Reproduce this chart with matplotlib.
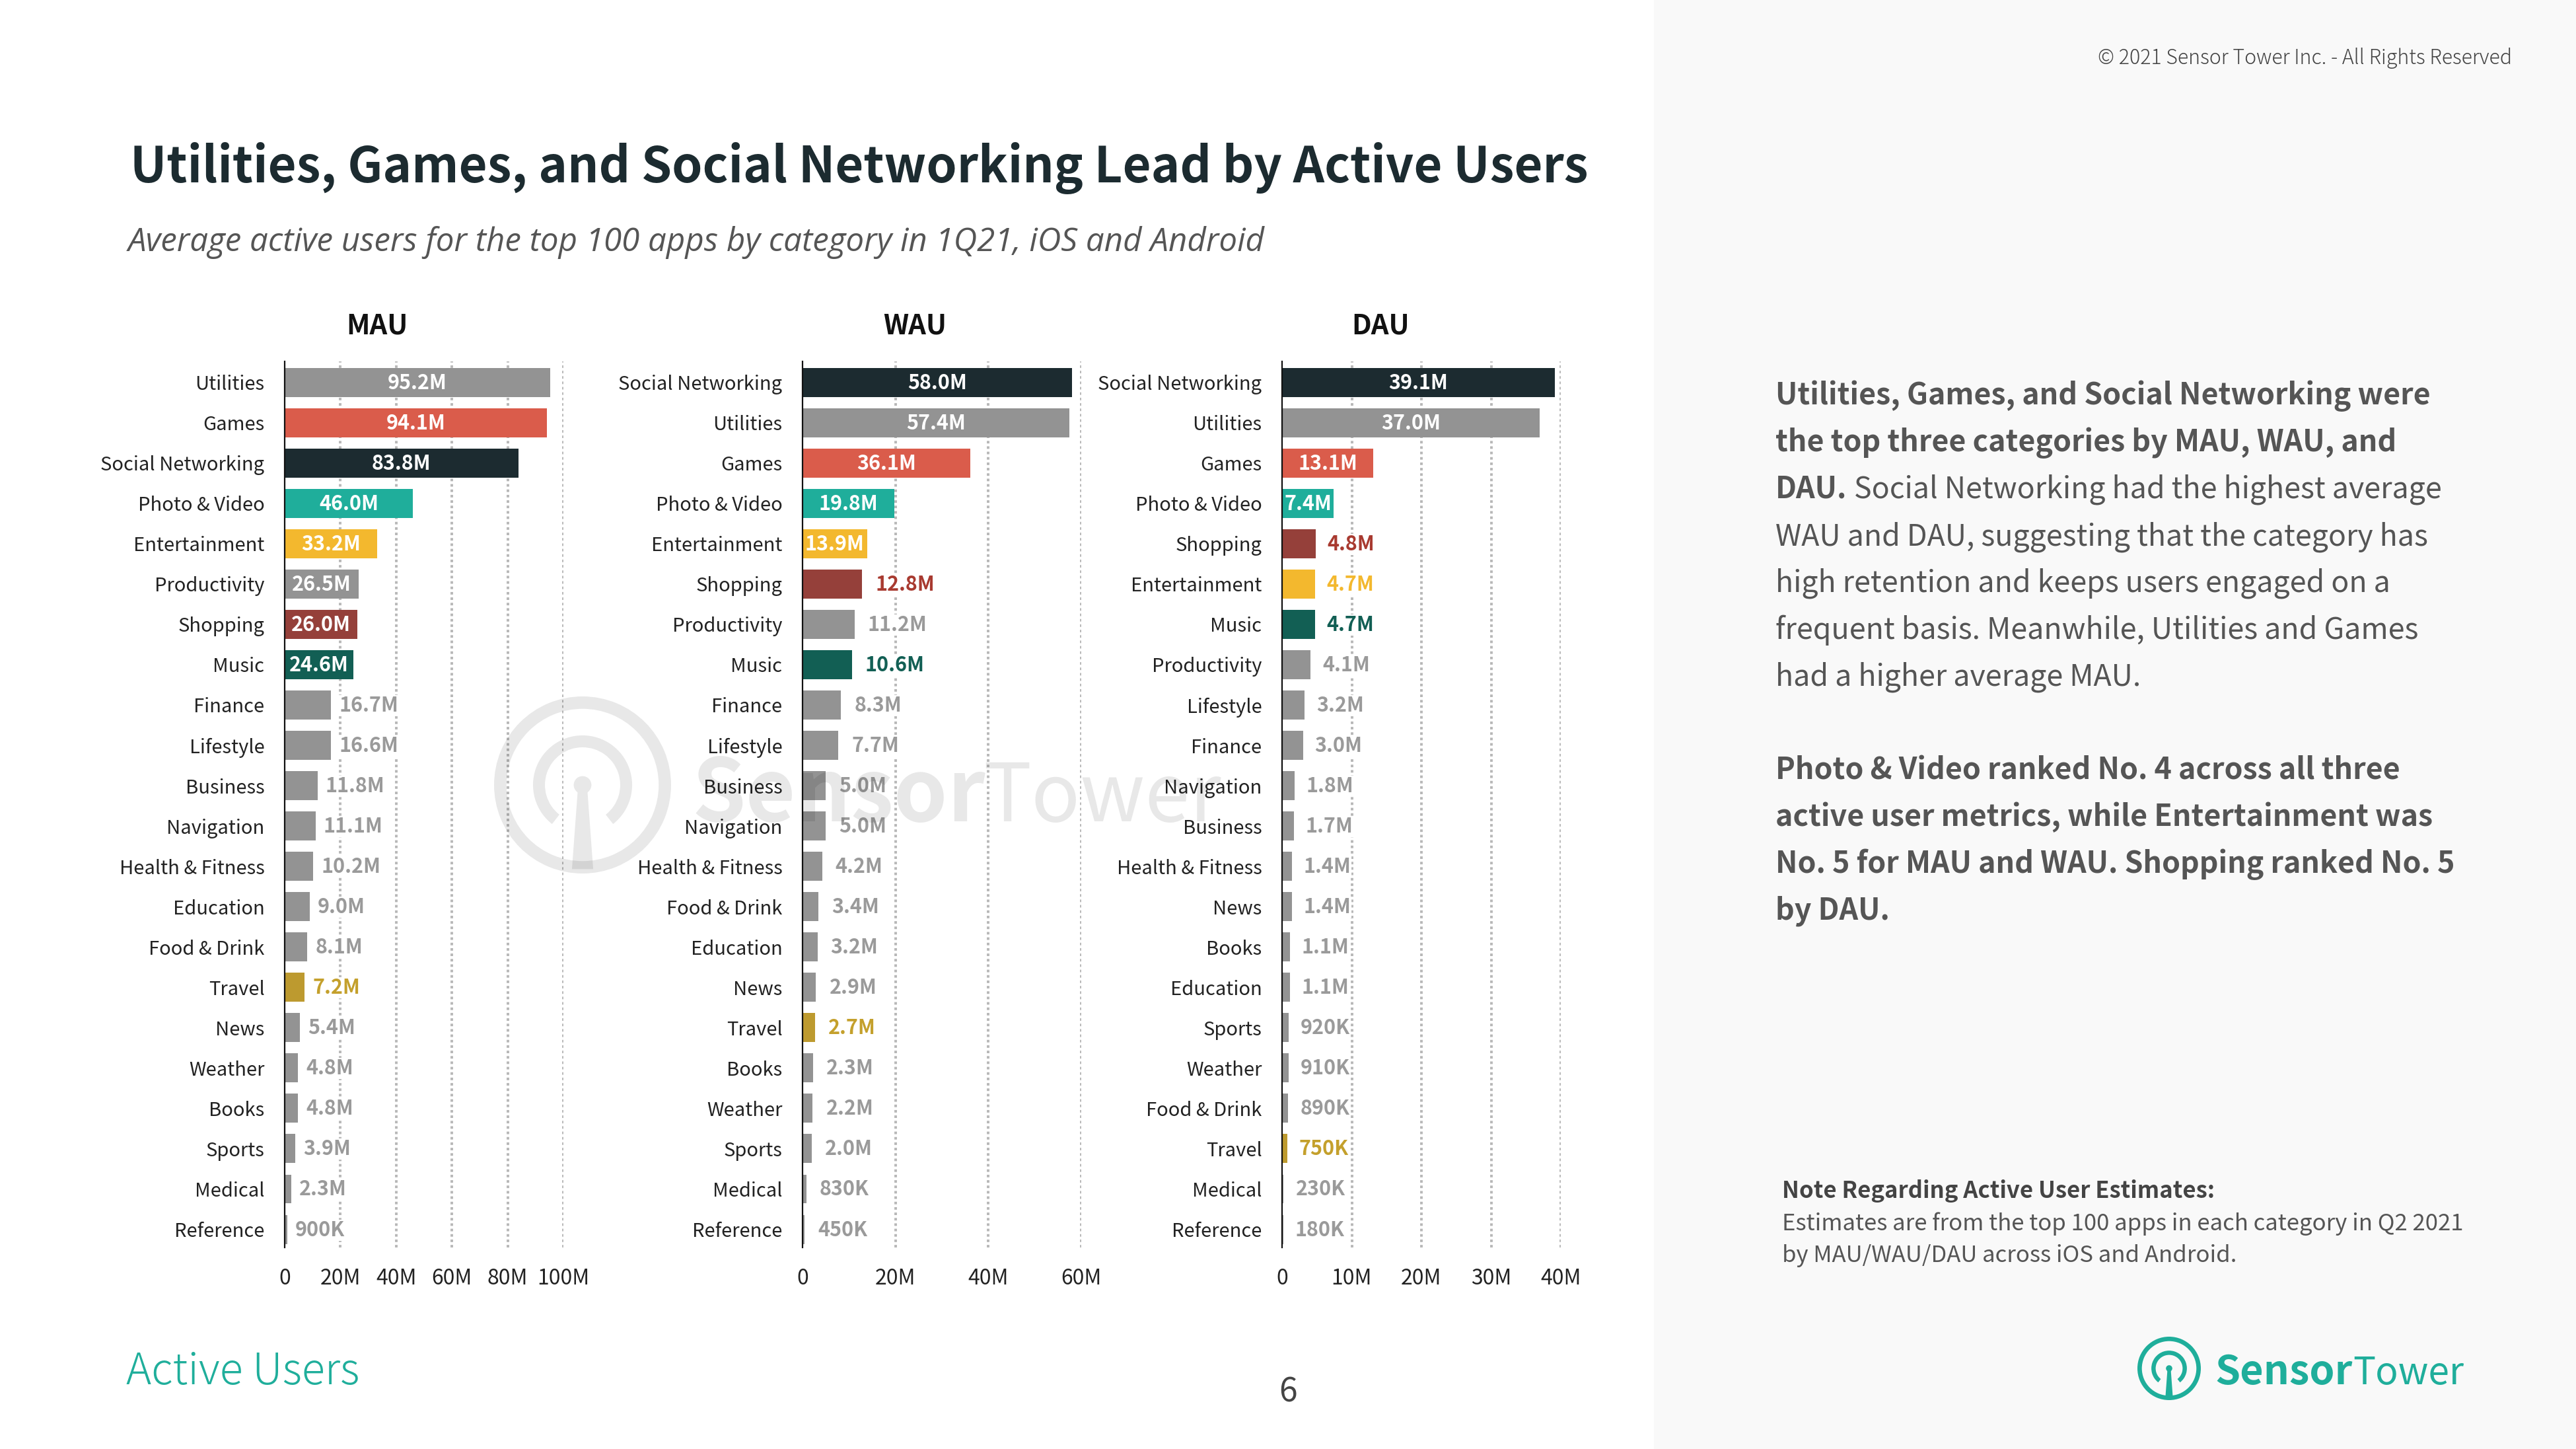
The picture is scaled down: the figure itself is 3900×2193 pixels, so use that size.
import matplotlib
matplotlib.use("Agg")
import matplotlib.pyplot as plt
from matplotlib.patches import Rectangle, Wedge, PathPatch
from matplotlib.path import Path
import numpy as np

W, H = 3900, 2193
SANS = "Noto Sans CJK JP"
plt.rcParams["font.family"] = [SANS, "DejaVu Sans"]

mau_names = ["Utilities", "Games", "Social Networking", "Photo & Video", "Entertainment", "Productivity",
             "Shopping", "Music", "Finance", "Lifestyle", "Business", "Navigation", "Health & Fitness",
             "Education", "Food & Drink", "Travel", "News", "Weather", "Books", "Sports", "Medical", "Reference"]
mau_values = [95.2, 94.1, 83.8, 46.0, 33.2, 26.5, 26.0, 24.6, 16.7, 16.6, 11.8, 11.1, 10.2, 9.0, 8.1, 7.2,
              5.4, 4.8, 4.8, 3.9, 2.3, 0.9]

wau_names = ["Social Networking", "Utilities", "Games", "Photo & Video", "Entertainment", "Shopping",
             "Productivity", "Music", "Finance", "Lifestyle", "Business", "Navigation", "Health & Fitness",
             "Food & Drink", "Education", "News", "Travel", "Books", "Weather", "Sports", "Medical", "Reference"]
wau_values = [58.0, 57.4, 36.1, 19.8, 13.9, 12.8, 11.2, 10.6, 8.3, 7.7, 5.0, 5.0, 4.2, 3.4, 3.2, 2.9, 2.7,
              2.3, 2.2, 2.0, 0.83, 0.45]

dau_names = ["Social Networking", "Utilities", "Games", "Photo & Video", "Shopping", "Entertainment", "Music",
             "Productivity", "Lifestyle", "Finance", "Navigation", "Business", "Health & Fitness", "News",
             "Books", "Education", "Sports", "Weather", "Food & Drink", "Travel", "Medical", "Reference"]
dau_values = [39.1, 37.0, 13.1, 7.4, 4.8, 4.7, 4.7, 4.1, 3.2, 3.0, 1.8, 1.7, 1.4, 1.4, 1.1, 1.1, 0.92, 0.91,
              0.89, 0.75, 0.23, 0.18]

mau_ticks = [0, 20, 40, 60, 80, 100]
wau_ticks = [0, 20, 40, 60]
dau_ticks = [0, 10, 20, 30, 40]

GREY = "#939393"
bar_colors = {"Games": "#da5c4b", "Social Networking": "#1c2b30", "Photo & Video": "#1fae9b",
              "Entertainment": "#f3b82e", "Shopping": "#95403a", "Music": "#125f54", "Travel": "#bd9a2f"}
text_colors = {"Shopping": "#a83a30", "Music": "#125f54", "Entertainment": "#f3b82e", "Travel": "#c4a02c"}
TEAL = "#1fae9b"


def fmt(v):
    if v < 1:
        return f"{v * 1000:.0f}K"
    return f"{v:.1f}M"


def panel(name, names, values, ticks, x0, x1, xmax, inside_from, gap, title_x):
    ax = fig.add_axes([x0 / W, 1 - 1888 / H, (x1 - x0) / W, (1888 - 547) / H])
    ypos = np.arange(len(names))
    colors = [bar_colors.get(n, GREY) for n in names]
    ax.barh(ypos, values, height=0.72, color=colors, zorder=3)
    ax.set_xlim(0, xmax)
    ax.set_ylim(21.45, -0.518)
    ax.set_yticks(ypos, names)
    ax.set_xticks(ticks, [str(t) if t == 0 else f"{t}M" for t in ticks])
    ax.tick_params(axis="y", length=0, pad=22, labelsize=21, labelcolor="#222222")
    ax.tick_params(axis="x", length=0, pad=22, labelsize=23, labelcolor="#222222")
    for s in ["top", "right", "bottom"]:
        ax.spines[s].set_visible(False)
    ax.spines["left"].set_linewidth(1.6)
    ax.spines["left"].set_color("#111111")
    ax.spines["left"].set_zorder(5)
    ax.grid(axis="x", color="#b8b8b8", linewidth=2.8, linestyle=(0, (1, 1.1)), zorder=1)
    ax.set_axisbelow(True)
    for tick, line in zip(ticks, ax.get_xgridlines()):
        if tick == 0:
            line.set_visible(False)
    for y, n, v in zip(ypos, names, values):
        if v >= inside_from:
            ax.text(v / 2, y + 0.02, fmt(v), ha="center", va="center", color="white",
                    fontsize=22, fontweight="bold", zorder=4)
        else:
            ax.annotate(fmt(v), (v, y), xytext=(gap, -1), textcoords="offset pixels", ha="left", va="center",
                        color=text_colors.get(n, "#9a9a9a"), fontsize=22, fontweight="bold", zorder=4,
                        bbox=dict(facecolor="white", edgecolor="none", pad=0))
    over.text(title_x, 494, name, ha="center", va="center", fontsize=30, fontweight="bold", color="#111111")


def logo(cx, cy, r, color, alpha=1.0):
    over.add_patch(Wedge((cx, cy), r, 0, 360, width=r * 0.14, facecolor=color, edgecolor="none", alpha=alpha))
    over.add_patch(Wedge((cx, cy), r * 0.56, 128, 412, width=r * 0.135, facecolor=color, edgecolor="none",
                         alpha=alpha))
    dot = Path.circle((cx, cy), r * 0.1)
    stem = Path([(cx - r * 0.05, cy), (cx + r * 0.05, cy), (cx + r * 0.12, cy + r * 0.95),
                 (cx - r * 0.12, cy + r * 0.95), (cx - r * 0.05, cy)],
                [Path.MOVETO, Path.LINETO, Path.LINETO, Path.LINETO, Path.CLOSEPOLY])
    over.add_patch(PathPatch(Path.make_compound_path(dot, stem), facecolor=color, edgecolor="none", alpha=alpha))


def mixed_line(x, y, bold, regular, size, color):
    # bold lead-in followed by regular text on one baseline
    r = fig.canvas.get_renderer()
    if bold:
        t = over.text(x, y, bold, fontsize=size, fontweight="bold", color=color, va="baseline")
        x = t.get_window_extent(r).x1 + (size * 0.32 if regular else 0)
    if regular:
        over.text(x, y, regular, fontsize=size, color=color, va="baseline")


fig = plt.figure(figsize=(W / 100, H / 100), dpi=100, facecolor="white")

# full figure layer in pixel units, sits on top of the charts for the watermark
over = fig.add_axes([0, 0, 1, 1], zorder=10)
over.set_xlim(0, W)
over.set_ylim(H, 0)
over.axis("off")
over.patch.set_alpha(0)
over.add_patch(Rectangle((2504, 0), W - 2504, H, facecolor="#f9f9f9", edgecolor="none"))

panel("MAU", mau_names, mau_values, mau_ticks, 431, 853, 100, 24, 12, 571)
panel("WAU", wau_names, wau_values, wau_ticks, 1215, 1637, 60, 13.5, 20, 1385)
panel("DAU", dau_names, dau_values, dau_ticks, 1941, 2363, 40, 7, 18, 2090)

over.text(197, 255, "Utilities, Games, and Social Networking Lead by Active Users", fontsize=53.3, fontweight="bold",
          color="#1c2b30", va="center")
over.text(194, 367, "Average active users for the top 100 apps by category in 1Q21, iOS and Android",
          fontsize=35.5, style="italic", family="Open Sans", color="#555555", va="center")
over.text(3803, 88, "© 2021 Sensor Tower Inc. - All Rights Reserved", fontsize=21.8, fontweight="light",
          color="#444444", ha="right", va="center")

body = [("Utilities, Games, and Social Networking were", ""),
        ("the top three categories by MAU, WAU, and", ""),
        ("DAU.", "Social Networking had the highest average"),
        ("", "WAU and DAU, suggesting that the category has"),
        ("", "high retention and keeps users engaged on a"),
        ("", "frequent basis. Meanwhile, Utilities and Games"),
        ("", "had a higher average MAU.")]
body2 = ["Photo & Video ranked No. 4 across all three",
         "active user metrics, while Entertainment was",
         "No. 5 for MAU and WAU. Shopping ranked No. 5",
         "by DAU."]
fig.canvas.draw()
for i, (b, reg) in enumerate(body):
    mixed_line(2688, 612 + i * 71, b, reg, 32.2, "#555555")
for i, b in enumerate(body2):
    mixed_line(2688, 1179 + i * 71, b, "", 32.2, "#555555")

over.text(2698, 1802, "Note Regarding Active User Estimates:", fontsize=25, fontweight="bold", color="#444444",
          va="center")
over.text(2698, 1852, "Estimates are from the top 100 apps in each category in Q2 2021", fontsize=25, color="#555555",
          va="center")
over.text(2698, 1901, "by MAU/WAU/DAU across iOS and Android.", fontsize=25, color="#555555", va="center")

over.text(191, 2077, "Active Users", fontsize=46.7, fontweight="light", color=TEAL, va="center")
over.text(1950, 2107, "6", fontsize=36, color="#444444", ha="center", va="center")

# brand mark, bottom right and the faint one over the charts
logo(3284, 2071, 48, TEAL)
over.text(3353, 2095, "Sensor", fontsize=44, fontweight="bold", color=TEAL, va="baseline")
over.text(3562, 2095, "Tower", fontsize=41, color=TEAL, va="baseline")

logo(882, 1188, 134, "black", alpha=0.09)
over.text(1048, 1243, "Sensor", fontsize=94, fontweight="bold", color="black", alpha=0.09, va="baseline")
over.text(1488, 1243, "Tower", fontsize=88, color="black", alpha=0.09, va="baseline")

fig.savefig("out.png", dpi=100, facecolor="white")
